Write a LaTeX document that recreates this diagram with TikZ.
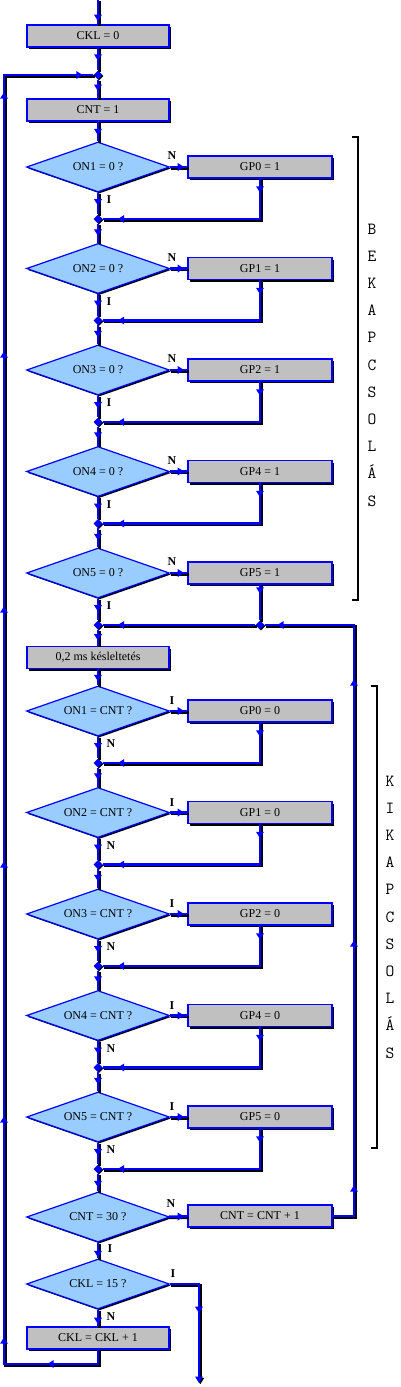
\documentclass[tikz,border=0pt]{standalone}
\usepackage{fontspec}
\setmainfont{Liberation Serif}
\usetikzlibrary{arrows.meta, shapes.geometric, shadows, decorations.markings}
\definecolor{flowblue}{RGB}{0,0,255}
\definecolor{boxgray}{RGB}{192,192,192}
\definecolor{decblue}{RGB}{153,204,255}

\begin{document}
\begin{tikzpicture}[x=1pt, y=-1pt, every node/.style={inner sep=0pt}]
  \tikzset{proc/.style={rectangle, draw=flowblue, line width=1.6pt, fill=boxgray, minimum width=142pt, minimum height=22pt, font=\fontsize{12}{14}\selectfont, drop shadow={shadow xshift=2pt, shadow yshift=-2pt, fill=black, opacity=1}}}
  \tikzset{dec/.style={diamond, aspect=2.86, draw=flowblue, line width=1.2pt, fill=decblue, minimum width=143pt, minimum height=50pt, font=\fontsize{12}{14}\selectfont, drop shadow={shadow xshift=1.5pt, shadow yshift=-1.5pt, fill=black, opacity=1}}}
  \tikzset{jn/.style={diamond, fill=flowblue, minimum size=9pt, drop shadow={shadow xshift=1pt, shadow yshift=-1pt, fill=black, opacity=1}}}
  \tikzset{F/.style={draw=flowblue, line width=2.5pt, preaction={draw=black, line width=2.5pt, transform canvas={shift={(1.3pt,-1.3pt)}}}}}
  \tikzset{arr/.style={postaction={decorate, decoration={markings, mark=at position #1 with {\arrow{Triangle[length=6.5pt, width=7.5pt]}}}}}}
  \tikzset{lbl/.style={font=\bfseries\fontsize{12}{14}\selectfont}}
  \tikzset{side/.style={align=center, font=\ttfamily\fontsize{17}{27.2}\selectfont}}
  \useasboundingbox (0,0) rectangle (400,1387);
  % start
  \coordinate (top) at (98,0);
  \node[proc] (ckl0) at (98,36) {CKL = 0};
  \node[jn] (j0) at (98,75) {};
  \node[proc] (cnt1) at (98,110) {CNT = 1};
  % bekapcsolas
  \node[dec] (on1) at (98,167) {ON1 = 0 ?};
  \node[proc, minimum width=144pt] (gp0) at (260,167) {GP0 = 1};
  \node[jn] (jb1) at (98,219) {};
  \node[dec] (on2) at (98,268.5) {ON2 = 0 ?};
  \node[proc, minimum width=144pt] (gp1) at (260,268.5) {GP1 = 1};
  \node[jn] (jb2) at (98,320.5) {};
  \node[dec] (on3) at (98,370) {ON3 = 0 ?};
  \node[proc, minimum width=144pt] (gp2) at (260,370) {GP2 = 1};
  \node[jn] (jb3) at (98,422) {};
  \node[dec] (on4) at (98,471.5) {ON4 = 0 ?};
  \node[proc, minimum width=144pt] (gp4) at (260,471.5) {GP4 = 1};
  \node[jn] (jb4) at (98,523.5) {};
  \node[dec] (on5) at (98,573) {ON5 = 0 ?};
  \node[proc, minimum width=144pt] (gp5) at (260,573) {GP5 = 1};
  \node[jn] (jb5) at (98,625) {};
  \node[jn] (jr) at (260,625) {};
  \node[lbl] (n1) at (172,156) {N};
  \node[lbl] (i1) at (109,200) {I};
  \node[lbl] (n2) at (172,257.5) {N};
  \node[lbl] (i2) at (109,301.5) {I};
  \node[lbl] (n3) at (172,359) {N};
  \node[lbl] (i3) at (109,403) {I};
  \node[lbl] (n4) at (172,460.5) {N};
  \node[lbl] (i4) at (109,504.5) {I};
  \node[lbl] (n5) at (172,562) {N};
  \node[lbl] (i5) at (109,606) {I};
  \node[proc] (delay) at (98,657.5) {0,2 ms késleltetés};
  % kikapcsolas
  \node[dec] (off1) at (98,711) {ON1 = CNT ?};
  \node[proc, minimum width=144pt] (gq0) at (260,711) {GP0 = 0};
  \node[jn] (jc1) at (98,763) {};
  \node[dec] (off2) at (98,812.5) {ON2 = CNT ?};
  \node[proc, minimum width=144pt] (gq1) at (260,812.5) {GP1 = 0};
  \node[jn] (jc2) at (98,864.5) {};
  \node[dec] (off3) at (98,914) {ON3 = CNT ?};
  \node[proc, minimum width=144pt] (gq2) at (260,914) {GP2 = 0};
  \node[jn] (jc3) at (98,966) {};
  \node[dec] (off4) at (98,1015.5) {ON4 = CNT ?};
  \node[proc, minimum width=144pt] (gq4) at (260,1015.5) {GP4 = 0};
  \node[jn] (jc4) at (98,1067.5) {};
  \node[dec] (off5) at (98,1117) {ON5 = CNT ?};
  \node[proc, minimum width=144pt] (gq5) at (260,1117) {GP5 = 0};
  \node[jn] (jc5) at (98,1169) {};
  \node[lbl] (k1) at (172,701) {I};
  \node[lbl] (m1) at (111,744) {N};
  \node[lbl] (k2) at (172,802.5) {I};
  \node[lbl] (m2) at (111,845.5) {N};
  \node[lbl] (k3) at (172,904) {I};
  \node[lbl] (m3) at (111,947) {N};
  \node[lbl] (k4) at (172,1005.5) {I};
  \node[lbl] (m4) at (111,1048.5) {N};
  \node[lbl] (k5) at (172,1107) {I};
  \node[lbl] (m5) at (111,1150) {N};
  % counters
  \node[dec] (cnt30) at (98,1217) {CNT = 30 ?};
  \node[proc, minimum width=144pt] (cntinc) at (260,1216) {CNT = CNT + 1};
  \node[dec] (ckl15) at (98,1284) {CKL = 15 ?};
  \node[proc] (cklinc) at (98,1338) {CKL = CKL + 1};
  \node[lbl] (n6) at (171,1204) {N};
  \node[lbl] (i6) at (110,1249) {I};
  \node[lbl] (i7) at (173,1274) {I};
  \node[lbl] (n7) at (111,1317) {N};
  \coordinate (rc) at (354,625);
  \coordinate (lb) at (4,1364);
  \coordinate (exit) at (199,1383);
  % brackets
  \draw[line width=2pt] (352,137) -- (358,137) -- (358,600) -- (352,600);
  \draw[line width=2pt] (371,686) -- (377,686) -- (377,1148) -- (371,1148);
  \node[side] (bek) at (372,365) {B\\E\\K\\A\\P\\C\\S\\O\\L\\Á\\S};
  \node[side] (kik) at (390,917) {K\\I\\K\\A\\P\\C\\S\\O\\L\\Á\\S};
  % flow
  \draw[F, arr=-3pt] (top) -- (ckl0);
  \draw[F, arr=13pt] (ckl0) -- (j0);
  \draw[F, arr=-7pt] (j0) -- (cnt1);
  \draw[F, arr=-6pt] (cnt1) -- (on1);
  \draw[F, arr=-3pt] (on1) -- (gp0);
  \draw[F, arr=13pt] (on1) -- (jb1);
  \draw[F, arr=14pt, arr=-15pt] (gp0.south) |- (jb1);
  \draw[F, arr=-7pt] (jb1) -- (on2);
  \draw[F, arr=-3pt] (on2) -- (gp1);
  \draw[F, arr=13pt] (on2) -- (jb2);
  \draw[F, arr=14pt, arr=-15pt] (gp1.south) |- (jb2);
  \draw[F, arr=-7pt] (jb2) -- (on3);
  \draw[F, arr=-3pt] (on3) -- (gp2);
  \draw[F, arr=13pt] (on3) -- (jb3);
  \draw[F, arr=14pt, arr=-15pt] (gp2.south) |- (jb3);
  \draw[F, arr=-7pt] (jb3) -- (on4);
  \draw[F, arr=-3pt] (on4) -- (gp4);
  \draw[F, arr=13pt] (on4) -- (jb4);
  \draw[F, arr=14pt, arr=-15pt] (gp4.south) |- (jb4);
  \draw[F, arr=-7pt] (jb4) -- (on5);
  \draw[F, arr=-3pt] (on5) -- (gp5);
  \draw[F, arr=13pt] (on5) -- (jb5);
  \draw[F, arr=9pt] (gp5) -- (jr);
  \draw[F, arr=-15pt] (jr) -- (jb5);
  \draw[F, arr=-5pt] (jb5) -- (delay);
  \draw[F, arr=-4pt] (delay) -- (off1);
  \draw[F, arr=-3pt] (off1) -- (gq0);
  \draw[F, arr=13pt] (off1) -- (jc1);
  \draw[F, arr=14pt, arr=-15pt] (gq0.south) |- (jc1);
  \draw[F, arr=-7pt] (jc1) -- (off2);
  \draw[F, arr=-3pt] (off2) -- (gq1);
  \draw[F, arr=13pt] (off2) -- (jc2);
  \draw[F, arr=14pt, arr=-15pt] (gq1.south) |- (jc2);
  \draw[F, arr=-7pt] (jc2) -- (off3);
  \draw[F, arr=-3pt] (off3) -- (gq2);
  \draw[F, arr=13pt] (off3) -- (jc3);
  \draw[F, arr=14pt, arr=-15pt] (gq2.south) |- (jc3);
  \draw[F, arr=-7pt] (jc3) -- (off4);
  \draw[F, arr=-3pt] (off4) -- (gq4);
  \draw[F, arr=13pt] (off4) -- (jc4);
  \draw[F, arr=14pt, arr=-15pt] (gq4.south) |- (jc4);
  \draw[F, arr=-7pt] (jc4) -- (off5);
  \draw[F, arr=-3pt] (off5) -- (gq5);
  \draw[F, arr=13pt] (off5) -- (jc5);
  \draw[F, arr=14pt, arr=-15pt] (gq5.south) |- (jc5);
  \draw[F, arr=-4pt] (jc5) -- (cnt30);
  \draw[F, arr=-3pt] (cnt30) -- (cntinc);
  \draw[F, arr=52pt, arr=297pt, arr=558pt, arr=689pt] (cntinc.east) -| (rc) -- (jr);
  \draw[F, arr=-1pt] (cnt30) -- (ckl15);
  \draw[F, arr=-2pt] (ckl15) -- (cklinc);
  \draw[F, arr=58pt, -{Triangle[length=6.5pt, width=7.5pt]}] (ckl15.east) -| (exit);
  \draw[F, arr=65pt, arr=135pt, arr=356pt, arr=611pt, arr=866pt, arr=1121pt, arr=1380pt, arr=1476pt] (cklinc.south) |- (lb) |- (j0);
\end{tikzpicture}
\end{document}
